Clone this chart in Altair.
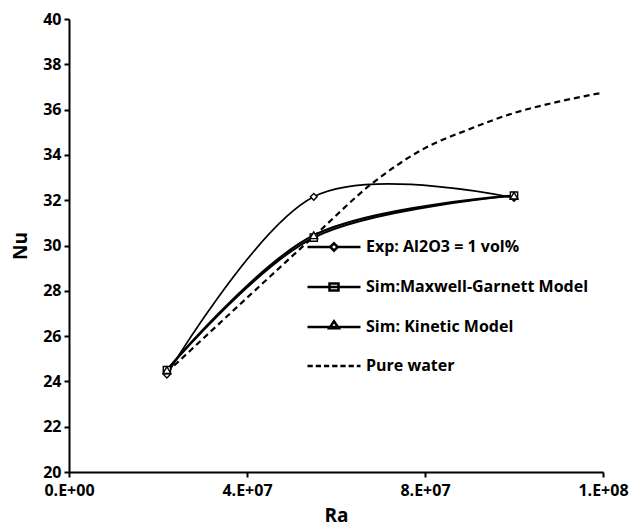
import altair as alt
import pandas as pd

# ---- data ----
series_names = ["Exp: Al2O3 = 1 vol%", "Sim:Maxwell-Garnett Model", "Sim: Kinetic Model", "Pure water"]

ra_sim = [2.2e7, 5.5e7, 1.0e8]
nu_exp = [24.3, 32.15, 32.1]
nu_mg = [24.5, 30.35, 32.2]
nu_kin = [24.5, 30.45, 32.2]

ra_water = [2.2e7, 5.5e7, 6.85e7, 8.0e7, 8.95e7, 1.0e8, 1.1e8, 1.2e8]
nu_water = [24.4, 30.4, 32.8, 34.3, 35.1, 35.85, 36.35, 36.75]

x_ticks = [0, 4e7, 8e7, 1.2e8]
x_tick_labels = ["0.E+00", "4.E+07", "8.E+07", "1.E+08"]
y_ticks = list(range(20, 41, 2))

rows = []
for ra, nu in zip(ra_sim, nu_exp):
    rows.append({"Ra": ra, "Nu": nu, "series": series_names[0]})
for ra, nu in zip(ra_sim, nu_mg):
    rows.append({"Ra": ra, "Nu": nu, "series": series_names[1]})
for ra, nu in zip(ra_sim, nu_kin):
    rows.append({"Ra": ra, "Nu": nu, "series": series_names[2]})
for ra, nu in zip(ra_water, nu_water):
    rows.append({"Ra": ra, "Nu": nu, "series": series_names[3]})
df = pd.DataFrame(rows)

FONT = "Open Sans"

label_expr = " : ".join(
    [f"datum.value == {v} ? '{l}'" for v, l in zip(x_ticks[:-1], x_tick_labels[:-1])]
) + f" : '{x_tick_labels[-1]}'"

x_enc = alt.X(
    "Ra:Q",
    scale=alt.Scale(domain=[0, 1.2e8], nice=False, zero=False),
    axis=alt.Axis(values=x_ticks, labelExpr=label_expr, title="Ra", labelFlush=False,
                  titlePadding=8, labelPadding=5),
)
y_enc = alt.Y(
    "Nu:Q",
    scale=alt.Scale(domain=[20, 40], nice=False, zero=False),
    axis=alt.Axis(values=y_ticks, title="Nu", titlePadding=12),
)

water = alt.Chart(df).transform_filter(
    alt.datum.series == series_names[3]
).mark_line(interpolate="monotone", color="black", strokeWidth=2.2, strokeDash=[6, 4]).encode(
    x=x_enc,
    y=y_enc,
)

lines = alt.Chart(df).transform_filter(
    alt.datum.series != series_names[3]
).mark_line(interpolate="cardinal", tension=0, color="black").encode(
    x="Ra:Q",
    y="Nu:Q",
    detail="series:N",
    strokeWidth=alt.StrokeWidth(
        "series:N",
        scale=alt.Scale(domain=series_names[:3], range=[1.7, 2.2, 2.8]),
        legend=None,
    ),
)

markers = alt.Chart(df).transform_filter(
    alt.datum.series != series_names[3]
).mark_point(filled=True, fill="white", stroke="black", strokeWidth=1.4, opacity=1).encode(
    x="Ra:Q",
    y="Nu:Q",
    shape=alt.Shape(
        "series:N",
        scale=alt.Scale(domain=series_names[:3], range=["diamond", "square", "triangle-up"]),
        legend=None,
    ),
    size=alt.Size(
        "series:N",
        scale=alt.Scale(domain=series_names[:3], range=[45, 60, 60]),
        legend=None,
    ),
)

legend_paths = [
    "M-1,0H-0.14 M0.14,0H1 M-0.14,0L0,-0.14L0.14,0L0,0.14Z",
    "M-1,0H1 M-0.17,-0.13H0.17V0.13H-0.17Z",
    "M-1,0H1 M-0.18,0.05L0,-0.22L0.18,0.05Z",
    "M-1,0H-0.8 M-0.69,0H-0.49 M-0.38,0H-0.18 M-0.07,0H0.13 M0.24,0H0.44 M0.55,0H0.75 M0.86,0H1",
]

legend_layer = alt.Chart(df).transform_filter("false").mark_point(
    filled=False, color="black", strokeWidth=2.5
).encode(
    x="Ra:Q",
    y="Nu:Q",
    shape=alt.Shape(
        "series:N",
        sort=series_names,
        scale=alt.Scale(domain=series_names, range=legend_paths),
        legend=alt.Legend(
            title=None,
            orient="none",
            legendX=237,
            legendY=200,
            padding=0,
            symbolSize=2809,
            symbolStrokeWidth=2.5,
            symbolStrokeColor="black",
            symbolOpacity=1,
            labelFont=FONT,
            labelFontSize=16,
            labelFontWeight="bold",
            labelColor="black",
            labelOffset=4,
            rowPadding=3,
            labelLimit=400,
        ),
    ),
)

chart = alt.layer(water, lines, markers, legend_layer).resolve_scale(
    shape="independent", size="independent", strokeWidth="independent"
).properties(
    width=534,
    height=453,
    background="white",
    autosize=alt.AutoSizeParams(type="none"),
    padding={"left": 69, "top": 19, "right": 29, "bottom": 60},
).configure_view(stroke=None).configure_axis(
    grid=False,
    domainColor="black",
    domainWidth=2,
    tickColor="black",
    tickWidth=2,
    tickSize=5,
    labelFont=FONT,
    labelFontSize=16,
    labelFontWeight="bold",
    labelColor="black",
    labelPadding=3,
    titleFont=FONT,
    titleFontSize=19,
    titleFontWeight="bold",
    titleColor="black",
)

chart.save("out.html", embed_options={"renderer": "svg", "actions": False})
